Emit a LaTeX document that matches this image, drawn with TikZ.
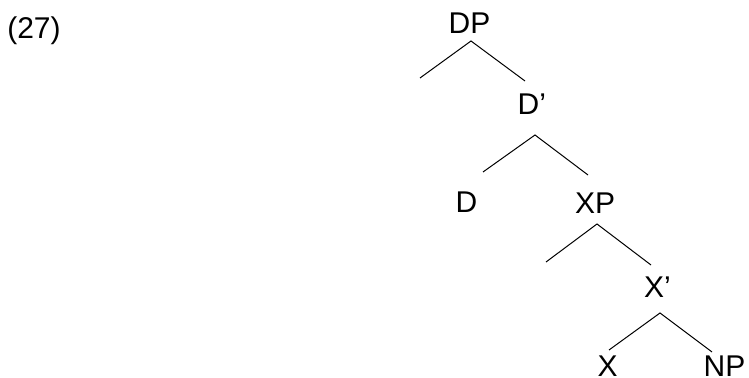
\documentclass[tikz,border=0pt]{standalone}
\usepackage{fontspec}
\setmainfont{Liberation Sans}
\begin{document}
\begin{tikzpicture}[x=0.5pt,y=-0.5pt,
  lbl/.style={anchor=base west,inner sep=0pt,outer sep=0pt,font=\fontsize{15}{18}\selectfont},
  branch/.style={line width=0.5pt,draw=black}]
\useasboundingbox (0,0) rectangle (749,378);
% labels
\node[lbl] (ex) at (7.3,38.3) {(27)};
\node[lbl] (DP) at (448.6,34) {DP};
\node[lbl] (Db) at (517.6,114.3) {D’};
\node[lbl] (D) at (455.6,213) {D};
\node[lbl] (XP) at (575,213.3) {XP};
\node[lbl] (Xb) at (644,298) {X’};
\node[lbl] (X) at (597.5,377) {X};
\node[lbl] (NP) at (703.7,377) {NP};
% branch points
\coordinate (DPa) at (471,41);  \coordinate (DPl) at (420,78);  \coordinate (DPr) at (525,81);
\coordinate (Dba) at (535,135); \coordinate (Dbl) at (483,172); \coordinate (Dbr) at (588,175);
\coordinate (XPa) at (597,224); \coordinate (XPl) at (546,262); \coordinate (XPr) at (651,265);
\coordinate (Xba) at (660,313); \coordinate (Xbl) at (609,350); \coordinate (Xbr) at (712,352);
% branches
\draw[branch] (DPl) -- (DPa) -- (DPr);
\draw[branch] (Dbl) -- (Dba) -- (Dbr);
\draw[branch] (XPl) -- (XPa) -- (XPr);
\draw[branch] (Xbl) -- (Xba) -- (Xbr);
\end{tikzpicture}
\end{document}
